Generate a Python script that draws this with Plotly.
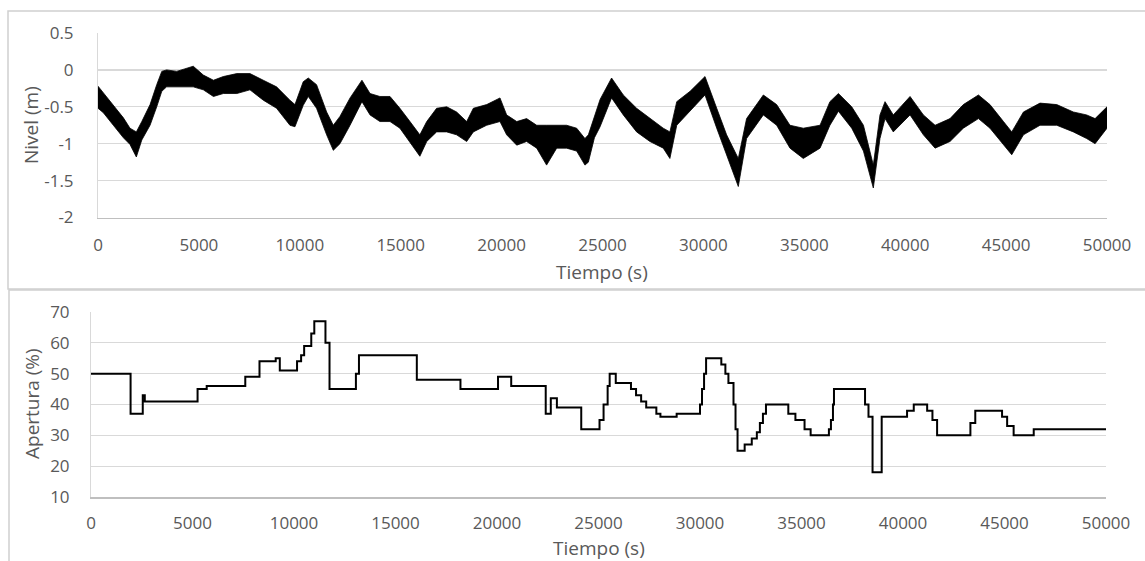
import plotly.graph_objects as go

# ---------------- data ----------------
# Nivel (m): envelope of the noisy trace
t_nivel = [0, 264, 760, 1260, 1586, 1900, 2170, 2580, 2910, 3160, 3400, 3900, 4720, 5220,
           5720, 6210, 6880, 7530, 8190, 8850, 9510, 9760, 10170, 10420, 10830, 11330, 11660,
           11990, 12490, 13080, 13480, 13970, 14470, 14960, 15460, 15950, 16290, 16780, 17280,
           17770, 18270, 18600, 19260, 19920, 20250, 20750, 21240, 21740, 22230, 22730, 23220,
           23720, 24130, 24300, 24600, 24880, 25450, 26030, 26690, 27350, 28010, 28340, 28680,
           29340, 30080, 30660, 31150, 31730, 32140, 32970, 33630, 34290, 34950, 35780, 36270,
           36690, 37350, 37930, 38420, 38750, 39000, 39410, 40240, 40900, 41480, 42220, 42880,
           43630, 44200, 44870, 45280, 45860, 46680, 47510, 48330, 48990, 49410, 50000]
nivel_sup = [-0.22, -0.31, -0.47, -0.65, -0.79, -0.84, -0.70, -0.47, -0.20, -0.02, 0.00, -0.02, 0.05, -0.07,
             -0.14, -0.09, -0.05, -0.05, -0.14, -0.23, -0.41, -0.47, -0.16, -0.11, -0.20, -0.57, -0.75,
             -0.63, -0.38, -0.14, -0.32, -0.36, -0.36, -0.52, -0.70, -0.88, -0.70, -0.52, -0.50,
             -0.57, -0.70, -0.52, -0.47, -0.38, -0.61, -0.70, -0.66, -0.75, -0.75, -0.75, -0.75,
             -0.79, -0.93, -0.88, -0.62, -0.40, -0.11, -0.34, -0.52, -0.66, -0.79, -0.84, -0.43,
             -0.29, -0.09, -0.52, -0.88, -1.20, -0.66, -0.34, -0.47, -0.75, -0.79, -0.75, -0.43,
             -0.32, -0.50, -0.75, -1.29, -0.61, -0.43, -0.61, -0.36, -0.61, -0.75, -0.66, -0.47,
             -0.34, -0.47, -0.70, -0.84, -0.57, -0.45, -0.47, -0.57, -0.61, -0.66, -0.50]
nivel_inf = [-0.52, -0.58, -0.75, -0.92, -1.01, -1.18, -0.95, -0.75, -0.50, -0.29, -0.23, -0.23, -0.23, -0.27,
             -0.36, -0.32, -0.32, -0.27, -0.41, -0.52, -0.75, -0.77, -0.48, -0.36, -0.52, -0.88, -1.09,
             -1.00, -0.75, -0.43, -0.61, -0.70, -0.70, -0.79, -0.99, -1.17, -0.97, -0.84, -0.84,
             -0.88, -0.97, -0.84, -0.75, -0.70, -0.88, -1.02, -0.97, -1.06, -1.29, -1.06, -1.06,
             -1.10, -1.29, -1.25, -0.92, -0.77, -0.38, -0.61, -0.84, -0.97, -1.06, -1.20, -0.75,
             -0.56, -0.34, -0.79, -1.15, -1.58, -0.93, -0.61, -0.75, -1.06, -1.20, -1.06, -0.75,
             -0.56, -0.79, -1.10, -1.60, -0.93, -0.66, -0.84, -0.61, -0.88, -1.06, -0.97, -0.79,
             -0.66, -0.79, -1.02, -1.15, -0.88, -0.75, -0.75, -0.84, -0.93, -1.00, -0.79]

# Apertura (%): step changes (time of change, new value)
t_apertura = [0, 1950, 2550, 2650, 5250, 5700, 7600, 8300, 9100, 9300, 10150, 10350, 10500, 10850,
              11000, 11550, 11750, 13050, 13200, 16050, 18200, 20050, 20700, 22400, 22650, 22950,
              24150, 25050, 25250, 25450, 25550, 25850, 26600, 26850, 27100, 27350, 27850, 28050,
              28850, 30000, 30100, 30200, 30300, 31050, 31250, 31400, 31650, 31750, 31850, 32200,
              32550, 32800, 32950, 33100, 33250, 34350, 34700, 35150, 35450, 36350, 36450, 36550,
              36600, 38130, 38300, 38500, 38950, 40200, 40530, 41190, 41450, 41680, 43320, 43560,
              44880, 45130, 45450, 46440, 50000]
apertura = [50, 37, 43, 41, 45, 46, 49, 54, 55, 51, 54, 56, 59, 63,
            67, 60, 45, 50, 56, 48, 45, 49, 46, 37, 42, 39,
            32, 35, 40, 46, 50, 47, 45, 43, 41, 39, 37, 36,
            37, 40, 45, 50, 55, 53, 50, 47, 40, 32, 25, 27,
            29, 31, 34, 37, 40, 37, 35, 32, 30, 32, 35, 40,
            45, 40, 36, 18, 36, 38, 40, 38, 35, 30, 34, 38,
            36, 33, 30, 32, 32]

x_ticks = [0, 5000, 10000, 15000, 20000, 25000, 30000, 35000, 40000, 45000, 50000]
nivel_ticks = [0.5, 0, -0.5, -1, -1.5, -2]
nivel_labels = ["0.5", "0", "-0.5", "-1", "-1.5", "-2"]
apertura_ticks = [10, 20, 30, 40, 50, 60, 70]

x_title = "Tiempo (s)"
nivel_title = "Nivel (m)"
apertura_title = "Apertura (%)"

# ---------------- figure ----------------
W, H = 1145, 561
FONT = "Open Sans"
TXT = "#595959"
GRID = "#d9d9d9"
TICK_SIZE = 17
TITLE_SIZE = 19

fig = go.Figure()

# Nivel band (upper envelope, then lower envelope filled to it)
fig.add_trace(go.Scatter(x=t_nivel, y=nivel_sup, mode="lines",
                         line=dict(color="black", width=0.8), xaxis="x", yaxis="y",
                         showlegend=False, hoverinfo="skip"))
fig.add_trace(go.Scatter(x=t_nivel, y=nivel_inf, mode="lines", fill="tonexty",
                         fillcolor="black", line=dict(color="black", width=0.8),
                         xaxis="x", yaxis="y", showlegend=False))

# Apertura step line
fig.add_trace(go.Scatter(x=t_apertura, y=apertura, mode="lines", line_shape="hv",
                         line=dict(color="black", width=2), xaxis="x2", yaxis="y2",
                         showlegend=False))


def px_x(p):
    return p / W


def px_y(p):
    return 1 - p / H


tickfont = dict(family=FONT, size=TICK_SIZE, color=TXT)
titlefont = dict(family=FONT, size=TITLE_SIZE, color=TXT)

fig.update_layout(
    width=W, height=H,
    margin=dict(l=0, r=0, t=0, b=0, pad=0, autoexpand=False),
    paper_bgcolor="white", plot_bgcolor="white",
    xaxis=dict(domain=[px_x(98), px_x(1107)], range=[0, 50000], tickvals=x_ticks,
               tickformat="d", anchor="y", showgrid=False, showline=True,
               linecolor="#bfbfbf", linewidth=1.5, ticks="", ticklabelstandoff=12,
               tickfont=tickfont, fixedrange=True, automargin=False),
    yaxis=dict(domain=[px_y(217.5), px_y(33)], range=[-2, 0.5], tickvals=nivel_ticks,
               ticktext=nivel_labels, anchor="x", showline=True, linecolor="#d9d9d9",
               linewidth=1, ticks="", ticklabelstandoff=20, showgrid=True,
               gridcolor=GRID, gridwidth=1.3, zeroline=False, tickfont=tickfont,
               fixedrange=True, automargin=False),
    xaxis2=dict(domain=[px_x(91), px_x(1106)], range=[0, 50000], tickvals=x_ticks,
                tickformat="d", anchor="y2", showgrid=False, showline=True,
                linecolor="#bfbfbf", linewidth=1.5, ticks="", ticklabelstandoff=10,
                tickfont=tickfont, fixedrange=True, automargin=False),
    yaxis2=dict(domain=[px_y(497), px_y(312)], range=[10, 70], tickvals=apertura_ticks,
                anchor="x2", showline=True, linecolor="#d9d9d9", linewidth=1,
                ticks="", ticklabelstandoff=17, showgrid=True, gridcolor=GRID,
                gridwidth=1.3, zeroline=False, tickfont=tickfont, fixedrange=True,
                automargin=False),
    shapes=[
        dict(type="rect", xref="paper", yref="paper", x0=px_x(8), x1=px_x(1146),
             y0=px_y(289), y1=px_y(11), line=dict(color="#d0d0d0", width=1.5)),
        dict(type="rect", xref="paper", yref="paper", x0=px_x(9), x1=px_x(1146),
             y0=px_y(563), y1=px_y(290), line=dict(color="#d0d0d0", width=1.5)),
    ],
    annotations=[
        dict(text=x_title, xref="paper", yref="paper", x=px_x(602), y=px_y(272),
             xanchor="center", yanchor="middle", showarrow=False, font=titlefont),
        dict(text=x_title, xref="paper", yref="paper", x=px_x(599), y=px_y(547.5),
             xanchor="center", yanchor="middle", showarrow=False, font=titlefont),
        dict(text=nivel_title, xref="paper", yref="paper", x=px_x(31), y=px_y(125),
             xanchor="center", yanchor="middle", showarrow=False, textangle=-90,
             font=titlefont),
        dict(text=apertura_title, xref="paper", yref="paper", x=px_x(32), y=px_y(404),
             xanchor="center", yanchor="middle", showarrow=False, textangle=-90,
             font=titlefont),
    ],
)

fig.write_html(
    "out.html",
    config={"displayModeBar": False, "staticPlot": True},
    post_script="document.body.style.margin='0';document.body.style.overflow='hidden';",
)
